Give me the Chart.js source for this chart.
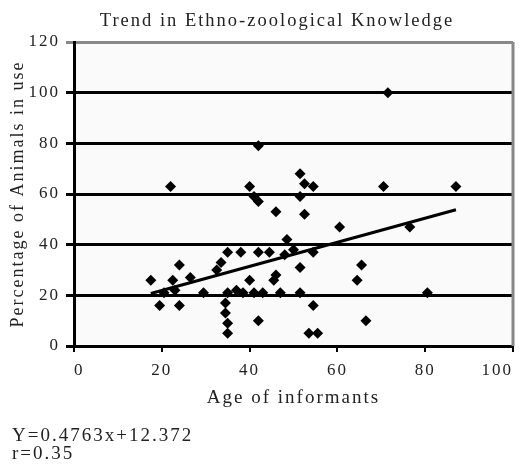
<!DOCTYPE html>
<html lang="en">
<head>
<meta charset="UTF-8" />
<title>Trend in Ethno-zoological Knowledge</title>
<script src="https://cdn.jsdelivr.net/npm/chart.js@4/dist/chart.umd.min.js"></script>
<style>
  body { margin: 0; background: #fff; }
</style>
</head>
<body>
<canvas id="chart" width="520" height="466"></canvas>
<script>
// informants: age vs percentage of animals still in use
const ages = [17.5, 19.5, 20.5, 22, 22.5, 23, 24, 24, 26.5, 29.5, 32.5, 33.5, 35, 35, 34.5, 34.5, 35, 35,
  37, 38, 38.5, 40, 40, 41, 41, 42, 42, 42, 42, 43, 44.5, 45.5, 46, 46, 47, 48, 48.5, 50,
  51.5, 51.5, 51.5, 51.5, 52.5, 52.5, 54.5, 54.5, 54.5, 53.5, 55.5, 60.5, 64.5, 65.5, 66.5,
  70.5, 71.5, 76.5, 80.5, 87];
const percents = [26, 16, 21, 63, 26, 22, 32, 16, 27, 21, 30, 33, 37, 21, 17, 13, 9, 5,
  22, 37, 21, 26, 63, 21, 59, 79, 57, 37, 10, 21, 37, 26, 28, 53, 21, 36, 42, 38,
  68, 59, 31, 21, 64, 52, 63, 37, 16, 5, 5, 47, 26, 32, 10,
  63, 100, 47, 21, 63];

const yTicks = [0, 20, 40, 60, 80, 100, 120];
const xTicks = [0, 20, 40, 60, 80, 100];

// fitted line Y = 0.4763x + 12.372, drawn over the age range
const slope = 0.4763;
const intercept = 12.372;
const fitRange = [17.5, 87];

const titleText = 'Trend in Ethno-zoological Knowledge';
const footerLines = ['Y=0.4763x+12.372', 'r=0.35'];

const serif = '"Liberation Serif", "Times New Roman", serif';

const points = ages.map((a, i) => ({ x: a, y: percents[i] }));
const fitLine = fitRange.map(x => ({ x: x, y: slope * x + intercept }));

const decor = {
  id: 'decor',
  beforeDraw(chart) {
    const ctx = chart.ctx;
    const a = chart.chartArea;
    ctx.save();
    ctx.fillStyle = '#fafafa';
    ctx.fillRect(a.left, a.top, a.right - a.left, a.bottom - a.top);
    ctx.restore();
    ctx.letterSpacing = '2px';
  },
  afterDraw(chart) {
    const ctx = chart.ctx;
    const a = chart.chartArea;
    ctx.save();
    // grey right edge of the plot frame
    ctx.strokeStyle = '#888';
    ctx.lineWidth = 3;
    ctx.beginPath();
    ctx.moveTo(a.right, a.top);
    ctx.lineTo(a.right, a.bottom);
    ctx.stroke();

    ctx.fillStyle = '#222';
    ctx.letterSpacing = '2px';
    ctx.font = '18.5px ' + serif;
    ctx.textAlign = 'center';
    ctx.textBaseline = 'alphabetic';
    ctx.fillText(titleText, 277, 26);

    ctx.font = '19px ' + serif;
    ctx.textAlign = 'left';
    footerLines.forEach((t, i) => ctx.fillText(t, 12, 441 + i * 18));
    ctx.restore();
  }
};

const ctx = document.getElementById('chart').getContext('2d');
new Chart(ctx, {
  type: 'scatter',
  data: {
    datasets: [
      {
        label: 'Informants',
        data: points,
        pointStyle: 'rectRot',
        pointRadius: 5.5,
        backgroundColor: '#000',
        borderColor: '#000',
        borderWidth: 0,
        order: 2
      },
      {
        label: 'Trend',
        data: fitLine,
        showLine: true,
        borderColor: '#000',
        borderWidth: 3,
        pointRadius: 0,
        order: 1
      }
    ]
  },
  options: {
    responsive: false,
    animation: false,
    devicePixelRatio: 1,
    layout: { padding: { top: 42, right: 7, bottom: 57, left: 0 } },
    plugins: {
      legend: { display: false },
      tooltip: { enabled: false }
    },
    scales: {
      x: {
        type: 'linear',
        min: 0,
        max: 100,
        afterBuildTicks: s => { s.ticks = xTicks.map(v => ({ value: v })); },
        afterFit: s => { s.height = 63; s.paddingLeft = 0; s.paddingRight = 0; },
        ticks: {
          align: 'inner',
          padding: 8,
          color: '#222',
          font: { family: serif, size: 17 }
        },
        grid: {
          drawOnChartArea: false,
          drawTicks: true,
          tickLength: 6,
          color: '#000',
          lineWidth: 2
        },
        border: { display: true, color: '#000', width: 3 },
        title: {
          display: true,
          text: 'Age of informants',
          color: '#222',
          font: { family: serif, size: 19 },
          padding: { top: 0, bottom: 0 }
        }
      },
      y: {
        min: 0,
        max: 120,
        afterBuildTicks: s => { s.ticks = yTicks.map(v => ({ value: v })); },
        afterFit: s => { s.width = 74; },
        ticks: {
          padding: 6,
          color: '#222',
          font: { family: serif, size: 17 }
        },
        grid: {
          color: c => (c.tick && c.tick.value === 120 ? '#888' : '#000'),
          lineWidth: 3,
          tickLength: 8
        },
        border: { display: true, color: '#000', width: 3 },
        title: {
          display: true,
          text: 'Percentage of Animals in use',
          color: '#222',
          font: { family: serif, size: 18 },
          padding: { top: 7, bottom: 0 }
        }
      }
    }
  },
  plugins: [decor]
});
</script>
</body>
</html>
